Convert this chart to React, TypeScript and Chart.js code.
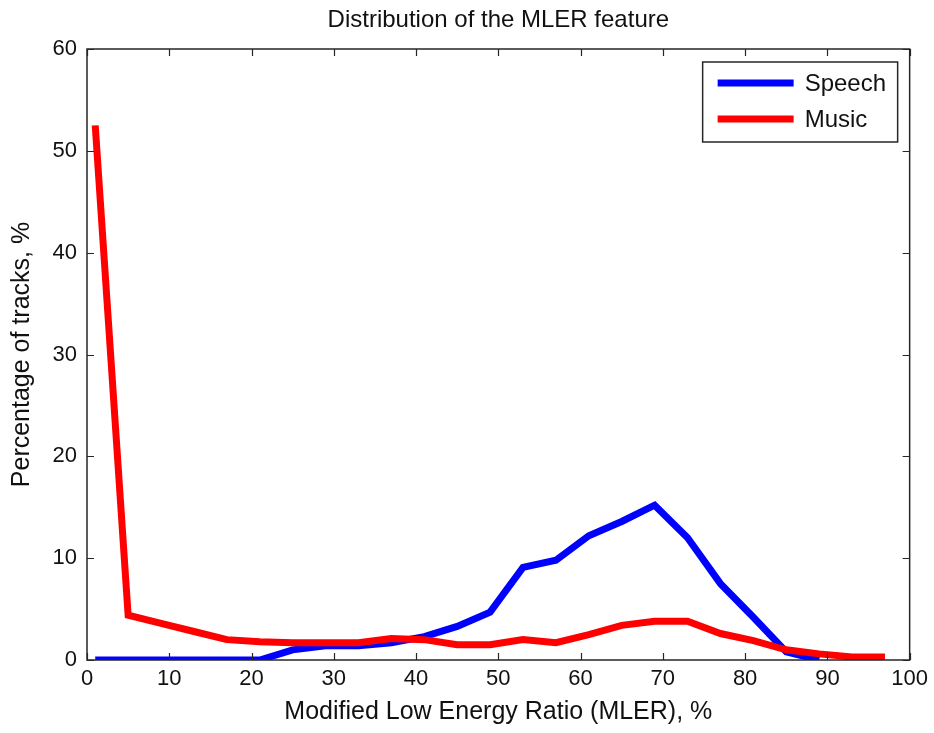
import React, { useEffect, useRef } from "react";
import { Chart, registerables } from "chart.js";

Chart.register(...registerables);

// ---- data ----
const mler = [1, 5, 9, 13, 17, 21, 25, 29, 33, 37, 41, 45, 49, 53, 57, 61, 65, 69, 73, 77, 81, 85, 89, 93, 97];
const speech = [0, 0, 0, 0, 0, 0, 1.0, 1.4, 1.4, 1.7, 2.3, 3.3, 4.7, 9.1, 9.8, 12.2, 13.6, 15.2, 12.0, 7.5, 4.2, 0.8, 0, null, null];
const music = [52.5, 4.4, 3.6, 2.8, 2.0, 1.8, 1.7, 1.7, 1.7, 2.1, 2.0, 1.5, 1.5, 2.0, 1.7, 2.5, 3.4, 3.8, 3.8, 2.6, 1.9, 1.0, 0.6, 0.3, 0.3];
const xTicks = [0, 10, 20, 30, 40, 50, 60, 70, 80, 90, 100];
const yTicks = [0, 10, 20, 30, 40, 50, 60];
const seriesNames = ["Speech", "Music"];
const seriesColors = ["#0000ff", "#ff0000"];
const titleText = "Distribution of the MLER feature";
const xTitle = "Modified Low Energy Ratio (MLER), %";
const yTitle = "Percentage of tracks, %";

const FONT = "'Liberation Sans', Arial, Helvetica, sans-serif";
const TEXT = "#111111";
const AXIS = "#262626";

const framePlugin = {
  id: "frame",
  afterDatasetsDraw(chart: any) {
    const { ctx, chartArea } = chart;
    const { left, right, top, bottom } = chartArea;
    const tl = 7;
    ctx.save();
    ctx.strokeStyle = AXIS;
    ctx.lineWidth = 1.5;
    ctx.strokeRect(left, top, right - left, bottom - top);
    ctx.beginPath();
    const xs = chart.scales.x;
    xs.ticks.forEach((t: any) => {
      const px = Math.round(xs.getPixelForValue(t.value)) + 0.5;
      ctx.moveTo(px, bottom);
      ctx.lineTo(px, bottom - tl);
      ctx.moveTo(px, top);
      ctx.lineTo(px, top + tl);
    });
    const ys = chart.scales.y;
    ys.ticks.forEach((t: any) => {
      const py = Math.round(ys.getPixelForValue(t.value)) + 0.5;
      ctx.moveTo(left, py);
      ctx.lineTo(left + tl, py);
      ctx.moveTo(right, py);
      ctx.lineTo(right - tl, py);
    });
    ctx.lineWidth = 1.2;
    ctx.stroke();
    ctx.restore();
  },
};

const titlePlugin = {
  id: "mtitle",
  afterDraw(chart: any) {
    const { ctx, chartArea } = chart;
    ctx.save();
    ctx.font = `24px ${FONT}`;
    ctx.fillStyle = TEXT;
    ctx.textAlign = "center";
    ctx.textBaseline = "middle";
    ctx.fillText(titleText, (chartArea.left + chartArea.right) / 2, 20);
    ctx.restore();
  },
};

const legendPlugin = {
  id: "mlegend",
  afterDraw(chart: any) {
    const { ctx, chartArea } = chart;
    const w = 195;
    const h = 80;
    const x0 = chartArea.right - 12 - w;
    const y0 = chartArea.top + 13;
    ctx.save();
    ctx.fillStyle = "#ffffff";
    ctx.fillRect(x0, y0, w, h);
    ctx.strokeStyle = AXIS;
    ctx.lineWidth = 1.5;
    ctx.strokeRect(x0, y0, w, h);
    chart.data.datasets.forEach((ds: any, i: number) => {
      const cy = y0 + 21 + i * 36;
      ctx.strokeStyle = ds.borderColor;
      ctx.lineWidth = 7;
      ctx.beginPath();
      ctx.moveTo(x0 + 15, cy);
      ctx.lineTo(x0 + 91, cy);
      ctx.stroke();
      ctx.fillStyle = TEXT;
      ctx.font = `24px ${FONT}`;
      ctx.textAlign = "left";
      ctx.textBaseline = "middle";
      ctx.fillText(ds.label, x0 + 102, cy + 1);
    });
    ctx.restore();
  },
};

export default function App() {
  const ref = useRef<HTMLCanvasElement | null>(null);
  useEffect(() => {
    if (!ref.current) return;
    const toPts = (ys: (number | null)[]) => mler.map((x, i) => ({ x, y: ys[i] }));
    const chart = new Chart(ref.current, {
      type: "line",
      data: {
        datasets: [
          {
            label: seriesNames[0],
            data: toPts(speech),
            borderColor: seriesColors[0],
            backgroundColor: seriesColors[0],
            borderWidth: 7,
            pointRadius: 0,
            tension: 0,
            order: 1,
            clip: 0,
          },
          {
            label: seriesNames[1],
            data: toPts(music),
            borderColor: seriesColors[1],
            backgroundColor: seriesColors[1],
            borderWidth: 7,
            pointRadius: 0,
            tension: 0,
            order: 0,
            clip: 0,
          },
        ],
      } as any,
      options: {
        animation: false,
        responsive: false,
        devicePixelRatio: 1,
        layout: { padding: { top: 49, right: 24, left: 0, bottom: 0 } },
        plugins: { legend: { display: false }, tooltip: { enabled: false }, title: { display: false } },
        scales: {
          x: {
            type: "linear",
            min: 0,
            max: 100,
            afterBuildTicks: (s: any) => {
              s.ticks = xTicks.map((v) => ({ value: v }));
            },
            ticks: { font: { family: FONT, size: 22 }, color: TEXT, padding: 6, maxRotation: 0 },
            grid: { display: false, drawTicks: false },
            border: { display: false },
            title: {
              display: true,
              text: xTitle,
              font: { family: FONT, size: 25 },
              color: TEXT,
              padding: { top: 0, bottom: 6 },
            },
            afterFit: (s: any) => {
              s.height = 73;
            },
          },
          y: {
            type: "linear",
            min: 0,
            max: 60,
            afterBuildTicks: (s: any) => {
              s.ticks = yTicks.map((v) => ({ value: v }));
            },
            ticks: { font: { family: FONT, size: 22 }, color: TEXT, padding: 10 },
            grid: { display: false, drawTicks: false },
            border: { display: false },
            title: {
              display: true,
              text: yTitle,
              font: { family: FONT, size: 25 },
              color: TEXT,
              padding: { top: 7.5, bottom: 0 },
            },
            afterFit: (s: any) => {
              s.width = 87;
            },
          },
        },
      } as any,
      plugins: [framePlugin, titlePlugin, legendPlugin],
    });
    return () => chart.destroy();
  }, []);
  return (
    <div style={{ position: "fixed", left: 0, top: 0, width: 934, height: 733, background: "#ffffff" }}>
      <canvas ref={ref} width={934} height={733} />
    </div>
  );
}
